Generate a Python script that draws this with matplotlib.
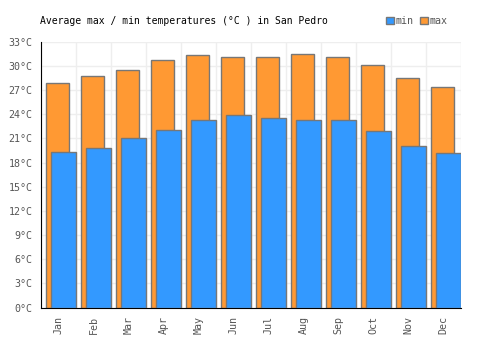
import matplotlib
matplotlib.use("Agg")
import matplotlib.pyplot as plt
import numpy as np

# monthly averages
months = ['Jan', 'Feb', 'Mar', 'Apr', 'May', 'Jun', 'Jul', 'Aug', 'Sep', 'Oct', 'Nov', 'Dec']
t_max = [27.9, 28.7, 29.5, 30.7, 31.3, 31.1, 31.1, 31.45, 31.1, 30.1, 28.5, 27.35]
t_min = [19.3, 19.8, 21.0, 22.1, 23.3, 23.9, 23.5, 23.25, 23.25, 21.9, 20.1, 19.15]
y_ticks = list(range(0, 34, 3))

plt.rcParams['font.family'] = 'DejaVu Sans Mono'

fig = plt.figure(figsize=(5, 3.5), dpi=100)
ax = fig.add_axes([0.082, 0.121, 0.84, 0.76])

x = np.arange(len(months))
ax.bar(x - 0.03, t_max, width=0.66, color='#ff9933', edgecolor='#777777',
       linewidth=1, label='max', zorder=2)
ax.bar(x + 0.14, t_min, width=0.70, color='#3399ff', edgecolor='#777777',
       linewidth=1, label='min', zorder=3)

ax.set_xlim(-0.5, len(months) - 0.5)
ax.set_ylim(0, 33)
ax.set_yticks(y_ticks)
ax.set_yticklabels(['{}°C'.format(v) for v in y_ticks])
ax.set_xticks(x)
ax.set_xticklabels(months, rotation=90)
ax.tick_params(length=0, labelsize=7.2, colors='#555555', pad=6)

# vertical grid lines sit between the months
ax.set_xticks(np.arange(-0.5, len(months)), minor=True)
ax.grid(axis='y', color='#eeeeee', linewidth=1, zorder=0)
ax.grid(axis='x', which='minor', color='#eeeeee', linewidth=1, zorder=0)
ax.tick_params(which='minor', length=0)
ax.set_axisbelow(True)

for s in ['top', 'right']:
    ax.spines[s].set_visible(False)
ax.spines['left'].set_color('black')
ax.spines['bottom'].set_color('black')

fig.text(0.08, 0.94, 'Average max / min temperatures (°C ) in San Pedro',
         fontsize=7, color='black', va='center')

handles, labels = ax.get_legend_handles_labels()
leg = fig.legend(handles[::-1], labels[::-1], loc='center right',
                 bbox_to_anchor=(0.905, 0.94), ncol=2, frameon=False,
                 fontsize=7.2, handlelength=0.8, handleheight=0.8,
                 handletextpad=0.2, columnspacing=0.6, borderpad=0)
for t in leg.get_texts():
    t.set_color('#555555')

fig.savefig('out.png', dpi=100)
